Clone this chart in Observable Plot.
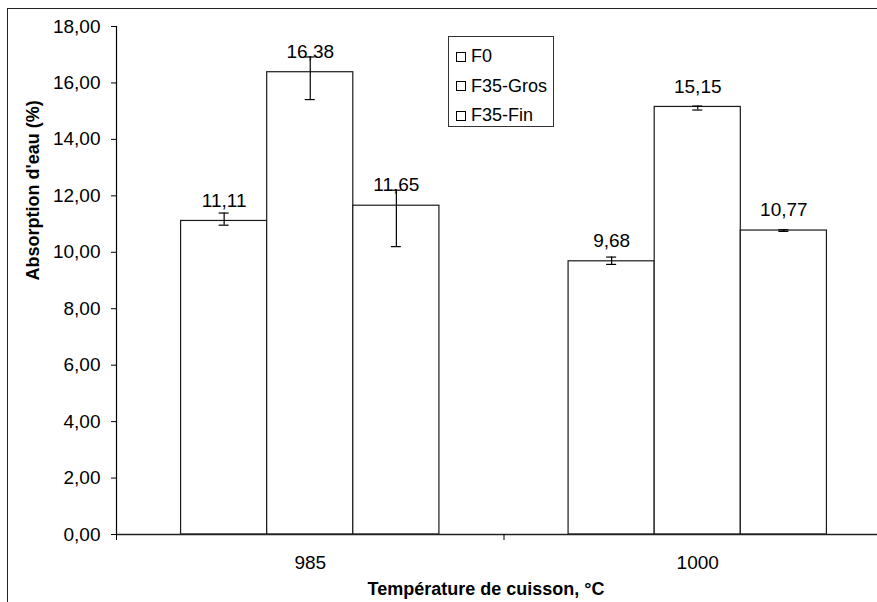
<!DOCTYPE html>
<html>
<head>
<meta charset="utf-8">
<script src="https://cdn.jsdelivr.net/npm/d3@7"></script>
<script src="https://cdn.jsdelivr.net/npm/@observablehq/plot@0.6"></script>
<style>
  html, body { margin: 0; padding: 0; background: white; overflow: hidden; }
  #wrap { position: relative; width: 877px; height: 602px; font-family: "Liberation Sans", Arial, sans-serif; }
  #frame { position: absolute; left: 7px; top: 8px; width: 900px; height: 700px; border-top: 1.3px solid #222; border-left: 1.3px solid #222; pointer-events: none; }
  #legend { position: absolute; left: 448px; top: 36px; width: 106px; height: 91px; border: 1px solid #333; background: white; font-size: 18px; color: black; box-sizing: border-box; padding-top: 5px; }
  .item { display: flex; align-items: center; height: 29.5px; padding-left: 7px; }
  .sw { width: 10px; height: 10px; border: 1px solid black; box-sizing: border-box; margin-right: 5px; background: white; }
</style>
</head>
<body>
<div id="wrap">
  <div id="chart"></div>
  <div id="legend"></div>
  <div id="frame"></div>
</div>
<script>
const temps = ["985", "1000"];
const series = ["F0", "F35-Gros", "F35-Fin"];
const values985 = [11.11, 16.38, 11.65];
const values1000 = [9.68, 15.15, 10.77];
const errLow985 = [10.96, 15.41, 10.20];
const errHigh985 = [11.39, 16.92, 12.20];
const errLow1000 = [9.57, 15.04, 10.74];
const errHigh1000 = [9.83, 15.18, 10.80];
const yTicks = [0, 2, 4, 6, 8, 10, 12, 14, 16, 18];
const yTitle = "Absorption d'eau (%)";
const xTitle = "Température de cuisson, °C";

const values = [values985, values1000];
const lows = [errLow985, errLow1000];
const highs = [errHigh985, errHigh1000];

// Excel-like clustered layout: gap width 50%
const gapWidth = 0.5;
const groupW = 1 / (1 + gapWidth);
const offset = (1 - groupW) / 2;
const barW = groupW / series.length;

const rows = [];
temps.forEach((t, g) => {
  series.forEach((s, k) => {
    const x1 = g + offset + k * barW;
    rows.push({temp: t, series: s, x1, x2: x1 + barW, xc: x1 + barW / 2,
      value: values[g][k], lo: lows[g][k], hi: highs[g][k]});
  });
});

const fmt = v => v.toFixed(2).replace(".", ",");
const dividers = d3.range(temps.length + 1);
const centers = temps.map((t, g) => g + 0.5);

const chart = Plot.plot({
  width: 877,
  height: 602,
  marginLeft: 116,
  marginRight: -14,
  marginTop: 26,
  marginBottom: 68,
  style: {fontFamily: "'Liberation Sans', Arial, sans-serif", fontSize: "19px", color: "black", background: "white"},
  x: {domain: [0, temps.length], ticks: centers, tickFormat: v => temps[Math.floor(v)], tickSize: 0, tickPadding: 21, label: null},
  y: {domain: [0, 18], ticks: yTicks, tickFormat: fmt, tickSize: 5, tickPadding: 11, label: null},
  marks: [
    Plot.rectY(rows, {x1: "x1", x2: "x2", y1: 0, y2: "value", fill: "white", stroke: "#1a1a1a", strokeWidth: 1.2}),
    Plot.ruleX(rows, {x: "xc", y1: "lo", y2: "hi", stroke: "black", strokeWidth: 1.2}),
    Plot.ruleY(rows, {y: "lo", x1: "xc", x2: "xc", insetLeft: -5, insetRight: -5, stroke: "black", strokeWidth: 1.2}),
    Plot.ruleY(rows, {y: "hi", x1: "xc", x2: "xc", insetLeft: -5, insetRight: -5, stroke: "black", strokeWidth: 1.2}),
    Plot.text(rows, {x: "xc", y: "value", text: d => fmt(d.value), dy: -20.5, lineAnchor: "middle", fontSize: 19, fill: "black"}),
    Plot.ruleX([0], {stroke: "black", strokeWidth: 1.2}),
    Plot.ruleY([0], {stroke: "#222", strokeWidth: 1.3}),
    Plot.ruleX(dividers, {y1: 0, y2: 0, insetBottom: -6, stroke: "black"}),
    Plot.text([yTitle], {frameAnchor: "left", rotate: -90, dx: -83, fontWeight: "bold", fontSize: 18, fill: "black"}),
    Plot.text([xTitle], {frameAnchor: "bottom", dx: -18, dy: 55, lineAnchor: "middle", fontWeight: "bold", fontSize: 18, fill: "black"})
  ]
});
document.getElementById("chart").appendChild(chart);

const legend = document.getElementById("legend");
series.forEach(s => {
  const item = document.createElement("div");
  item.className = "item";
  const sw = document.createElement("span");
  sw.className = "sw";
  const label = document.createElement("span");
  label.textContent = s;
  item.appendChild(sw);
  item.appendChild(label);
  legend.appendChild(item);
});
</script>
</body>
</html>
